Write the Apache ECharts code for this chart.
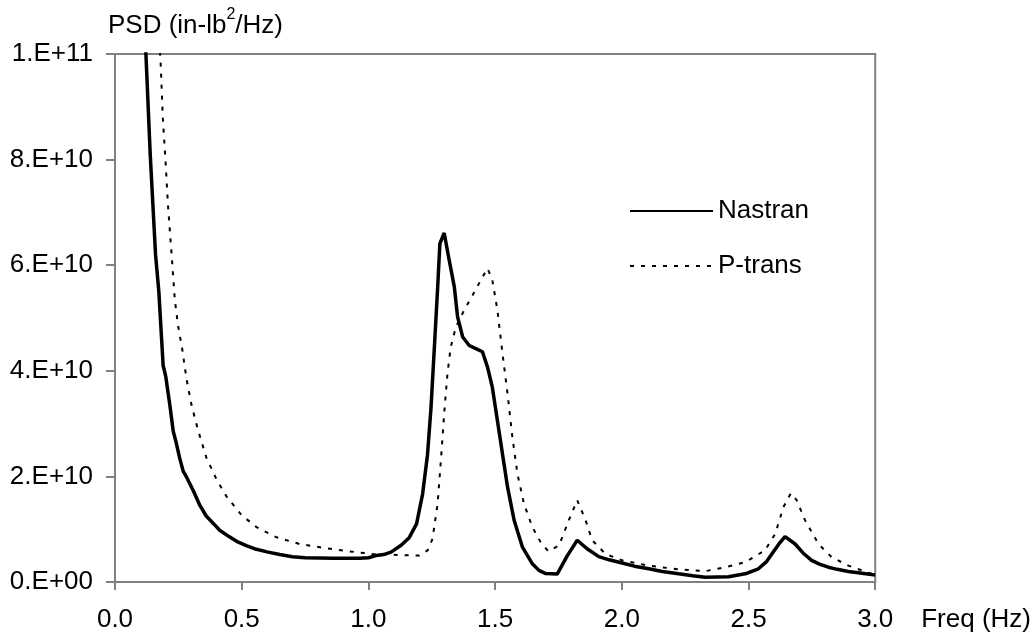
<!DOCTYPE html>
<html>
<head>
<meta charset="utf-8">
<script src="https://cdn.jsdelivr.net/npm/echarts@6/dist/echarts.min.js"></script>
<style>
html,body{margin:0;padding:0;background:#fff;}
#chart{width:1034px;height:635px;}
</style>
</head>
<body>
<div id="chart"></div>
<script>
// Nastran series
const nastranFreq = [0.100,0.122,0.139,0.160,0.173,0.190,0.200,0.215,0.230,0.241,0.255,0.269,0.283,0.310,0.335,0.360,0.390,0.413,0.450,0.480,0.518,0.550,0.600,0.650,0.700,0.750,0.860,0.965,1.000,1.030,1.060,1.089,1.128,1.161,1.190,1.214,1.233,1.247,1.260,1.273,1.282,1.299,1.319,1.339,1.352,1.372,1.398,1.424,1.450,1.470,1.489,1.509,1.529,1.549,1.575,1.608,1.647,1.673,1.700,1.745,1.785,1.824,1.863,1.909,1.950,2.001,2.050,2.106,2.160,2.224,2.280,2.329,2.421,2.487,2.539,2.570,2.592,2.620,2.644,2.684,2.715,2.749,2.780,2.815,2.850,2.894,2.940,2.985,3.000];
const nastranPSD = [13.0e10,10.0e10,8.1e10,6.2e10,5.5e10,4.1e10,3.9e10,3.4e10,2.85e10,2.65e10,2.35e10,2.1e10,1.98e10,1.72e10,1.45e10,1.25e10,1.10e10,0.98e10,0.86e10,0.77e10,0.69e10,0.63e10,0.57e10,0.52e10,0.48e10,0.46e10,0.45e10,0.45e10,0.46e10,0.50e10,0.52e10,0.565e10,0.69e10,0.84e10,1.10e10,1.67e10,2.40e10,3.3e10,4.42e10,5.55e10,6.41e10,6.61e10,6.09e10,5.59e10,5.02e10,4.64e10,4.48e10,4.42e10,4.36e10,4.07e10,3.69e10,3.06e10,2.43e10,1.80e10,1.17e10,0.66e10,0.345e10,0.22e10,0.16e10,0.15e10,0.50e10,0.79e10,0.63e10,0.48e10,0.42e10,0.36e10,0.30e10,0.25e10,0.20e10,0.155e10,0.12e10,0.09e10,0.10e10,0.155e10,0.25e10,0.38e10,0.53e10,0.72e10,0.86e10,0.72e10,0.55e10,0.41e10,0.34e10,0.28e10,0.24e10,0.20e10,0.17e10,0.14e10,0.13e10];

// P-trans series
const ptransFreq = [0.160,0.180,0.189,0.200,0.209,0.222,0.236,0.249,0.266,0.282,0.302,0.328,0.361,0.400,0.440,0.499,0.558,0.636,0.728,0.833,0.925,1.017,1.122,1.200,1.234,1.253,1.273,1.286,1.299,1.312,1.325,1.345,1.378,1.411,1.444,1.470,1.489,1.509,1.529,1.549,1.568,1.588,1.614,1.647,1.680,1.710,1.752,1.791,1.824,1.857,1.883,1.936,2.001,2.106,2.224,2.329,2.408,2.487,2.565,2.605,2.638,2.667,2.690,2.723,2.776,2.828,2.894,2.985,3.000];
const ptransPSD = [11.5e10,9.84e10,8.76e10,7.92e10,7.14e10,6.29e10,5.35e10,4.85e10,4.39e10,3.85e10,3.35e10,2.87e10,2.35e10,1.95e10,1.62e10,1.27e10,1.04e10,0.85e10,0.72e10,0.64e10,0.58e10,0.53e10,0.51e10,0.50e10,0.60e10,0.82e10,1.48e10,2.30e10,3.19e10,3.95e10,4.45e10,4.83e10,5.15e10,5.43e10,5.72e10,5.94e10,5.72e10,5.15e10,4.33e10,3.57e10,2.75e10,2.05e10,1.48e10,1.04e10,0.75e10,0.58e10,0.69e10,1.17e10,1.55e10,1.17e10,0.79e10,0.53e10,0.41e10,0.31e10,0.24e10,0.205e10,0.28e10,0.375e10,0.60e10,0.91e10,1.42e10,1.68e10,1.55e10,1.17e10,0.72e10,0.47e10,0.31e10,0.155e10,0.14e10];

const seriesNames = ['Nastran', 'P-trans'];
const xTitle = 'Freq (Hz)';

function pairs(xs, ys){ return xs.map((x,i)=>[x, ys[i]]); }
function sciLabel(v){
  if (v === 0) return '0.E+00';
  const e = Math.floor(Math.log10(v) + 1e-9);
  const m = Math.round(v / Math.pow(10, e));
  return m + '.E+' + (e < 10 ? '0' + e : e);
}

const FONT = 'Liberation Sans, Arial, sans-serif';
const FS = 26;
const AX = '#808080';

const chart = echarts.init(document.getElementById('chart'), null, {renderer:'canvas'});
chart.setOption({
  animation: false,
  backgroundColor: '#fff',
  textStyle: {fontFamily: FONT, color: '#000'},
  grid: {left: 115, right: 158, top: 54, bottom: 53, show: true, borderColor: AX, borderWidth: 2, containLabel: false},
  graphic: [{
    type: 'text', left: 108, top: 7,
    style: {
      text: '{a|PSD (in-lb}{s|2}{a|/Hz)}',
      rich: {
        a: {fontSize: FS, fontFamily: FONT, fill: '#000', lineHeight: 32, verticalAlign: 'bottom'},
        s: {fontSize: 16, fontFamily: FONT, fill: '#000', lineHeight: 32, verticalAlign: 'top'}
      }
    }
  }],
  legend: {
    orient: 'vertical', left: 629, top: 198, padding: 0,
    itemWidth: 83, itemHeight: 26, itemGap: 29,
    itemStyle: {opacity: 0},
    textStyle: {fontSize: FS, fontFamily: FONT, color: '#000', lineHeight: 26},
    data: seriesNames
  },
  xAxis: {
    type: 'value', min: 0, max: 3, interval: 0.5,
    name: xTitle, nameLocation: 'end', nameGap: 46,
    nameTextStyle: {fontSize: FS, fontFamily: FONT, color: '#000', align: 'left', verticalAlign: 'top', padding: [25,0,0,0], lineHeight: 26},
    axisLine: {show: true, onZero: false, lineStyle: {color: AX, width: 2}},
    axisTick: {show: true, length: 8, inside: false, lineStyle: {color: AX, width: 2}},
    splitLine: {show: false},
    axisLabel: {fontSize: FS, fontFamily: FONT, color: '#000', margin: 25, lineHeight: 26,
      formatter: v => v.toFixed(1)}
  },
  yAxis: {
    type: 'value', min: 0, max: 1e11, interval: 2e10,
    axisLine: {show: true, lineStyle: {color: AX, width: 2}},
    axisTick: {show: true, length: 9, inside: false, lineStyle: {color: AX, width: 2}},
    splitLine: {show: false},
    axisLabel: {fontSize: FS, fontFamily: FONT, color: '#000', margin: 22, formatter: sciLabel}
  },
  series: [
    {
      name: seriesNames[0], type: 'line', symbol: 'none', clip: true,
      data: pairs(nastranFreq, nastranPSD),
      lineStyle: {color: '#000', width: 3.5, type: 'solid'},
      itemStyle: {color: '#000'}
    },
    {
      name: seriesNames[1], type: 'line', symbol: 'none', clip: true,
      data: pairs(ptransFreq, ptransPSD),
      lineStyle: {color: '#000', width: 2, type: [4, 7]},
      itemStyle: {color: '#000'}
    }
  ]
});
</script>
</body>
</html>
